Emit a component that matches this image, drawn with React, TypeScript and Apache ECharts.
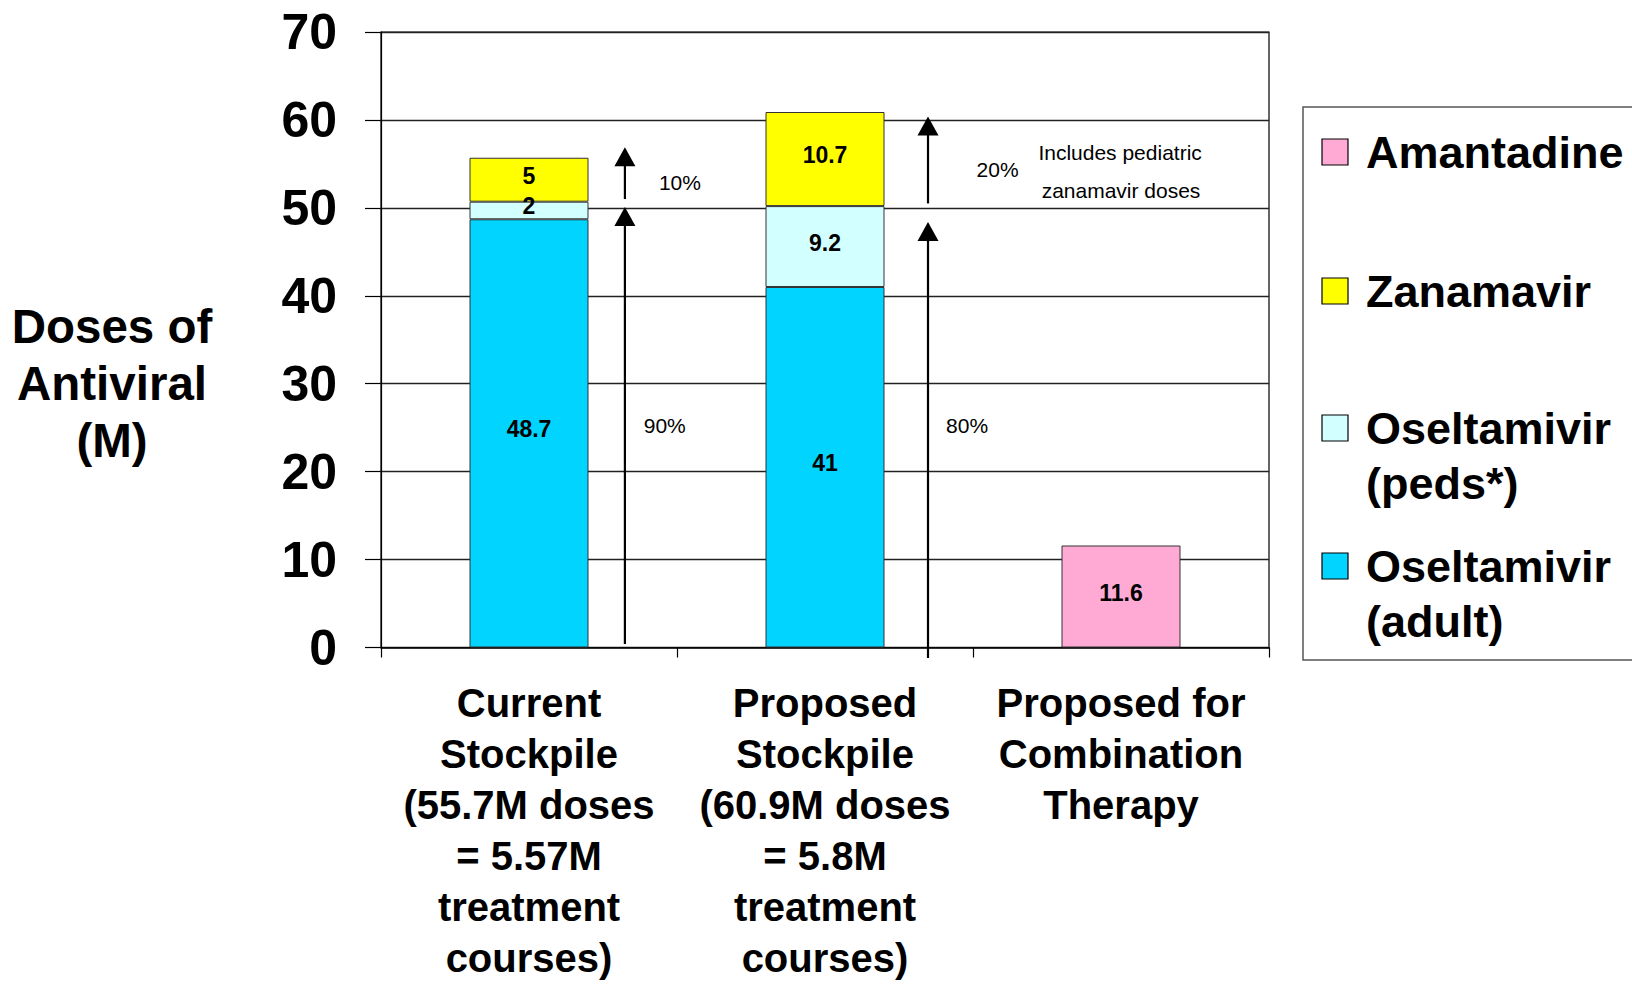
import React, { useEffect, useRef } from "react";
import * as echarts from "echarts";

// ---------- data ----------
const categories = [
  "Current\nStockpile\n(55.7M doses\n= 5.57M\ntreatment\ncourses)",
  "Proposed\nStockpile\n(60.9M doses\n= 5.8M\ntreatment\ncourses)",
  "Proposed for\nCombination\nTherapy",
];
const oseltamivirAdult = [48.7, 41, null];
const oseltamivirPeds = [2, 9.2, null];
const zanamavir = [5, 10.7, null];
const amantadine = [null, null, 11.6];

const yMin = 0;
const yMax = 70;
const yInterval = 10;

// arrows: [x position in category units (0..3), y start, y tip]
const arrows = [
  [0.824, 0.4, 50.1],
  [0.824, 51.0, 56.9],
  [1.848, -1.2, 48.4],
  [1.848, 50.5, 60.4],
];
// annotation texts and their anchor (category units, y value)
const annotationTexts = ["10%", "90%", "20%", "80%", "Includes pediatric", "zanamavir doses"];
const annotationAnchors = [
  [1.01, 52.9],
  [0.9585, 25.3],
  [2.083, 54.4],
  [1.98, 25.3],
  [2.497, 56.3],
  [2.5, 52.0],
];

const legendItems = [
  { name: "Amantadine", label: "Amantadine", color: "#FFAAD5" },
  { name: "Zanamavir", label: "Zanamavir", color: "#FFFF00" },
  { name: "Oseltamivir (peds*)", label: "Oseltamivir\n(peds*)", color: "#D2FFFF" },
  { name: "Oseltamivir (adult)", label: "Oseltamivir\n(adult)", color: "#00D4FF" },
];
const legendCenters = [152, 291, 428, 566];

const FONT = "'Liberation Sans', Arial, Helvetica, sans-serif";
const NARROW = "'Liberation Sans Narrow', 'Arial Narrow', 'Liberation Sans', Arial, sans-serif";

export default function App() {
  const ref = useRef<HTMLDivElement>(null);

  useEffect(() => {
    if (!ref.current) return;
    const chart = echarts.init(ref.current, undefined, { renderer: "svg" });

    const barLabel = {
      show: true,
      position: "inside",
      offset: [0, -4],
      color: "#000",
      fontSize: 23,
      fontWeight: "bold",
      fontFamily: NARROW,
    };
    const barCommon = {
      type: "bar",
      stack: "total",
      barWidth: 119,
      xAxisIndex: 0,
      yAxisIndex: 0,
      label: barLabel,
    };

    const legendGraphics: any[] = [
      {
        type: "rect",
        shape: { x: 1303, y: 107, width: 340, height: 553 },
        style: { fill: "#fff", stroke: "#555", lineWidth: 1.5 },
        z: 10,
      },
    ];
    legendItems.forEach((it, i) => {
      const cy = legendCenters[i];
      legendGraphics.push({
        type: "rect",
        shape: { x: 1322, y: cy - 13, width: 26, height: 26 },
        style: { fill: it.color, stroke: "#000", lineWidth: 1.2 },
        z: 11,
      });
      legendGraphics.push({
        type: "text",
        x: 1366,
        y: cy - 27.5,
        style: {
          text: it.label,
          fontSize: 45,
          fontWeight: "bold",
          fontFamily: FONT,
          fill: "#000",
          align: "left",
          verticalAlign: "top",
          lineHeight: 55,
        },
        z: 11,
      });
    });

    const option: any = {
      animation: false,
      backgroundColor: "#fff",
      grid: {
        left: 381,
        right: 363,
        top: 32,
        bottom: 336.5,
        containLabel: false,
        outerBoundsMode: "none",
        show: true,
        borderColor: "#000",
        borderWidth: 1.2,
        backgroundColor: "transparent",
      },
      xAxis: [
        {
          type: "category",
          data: categories,
          axisLine: { show: true, lineStyle: { color: "#000", width: 1.5 } },
          axisTick: { show: true, alignWithLabel: false, length: 10, lineStyle: { color: "#000", width: 1.2 } },
          axisLabel: {
            interval: 0,
            color: "#000",
            fontSize: 40,
            fontWeight: "bold",
            fontFamily: FONT,
            lineHeight: 51,
            margin: 29.5,
          },
          splitLine: { show: false },
        },
        {
          type: "value",
          min: 0,
          max: 3,
          show: false,
        },
      ],
      yAxis: {
        type: "value",
        min: yMin,
        max: yMax,
        interval: yInterval,
        axisLine: { show: true, lineStyle: { color: "#000", width: 1.2 } },
        axisTick: { show: true, inside: false, length: 16, lineStyle: { color: "#000", width: 1.2 } },
        axisLabel: {
          color: "#000",
          fontSize: 50,
          fontWeight: "bold",
          fontFamily: FONT,
          margin: 44,
        },
        splitLine: { show: true, lineStyle: { color: "#222", width: 1.3 } },
      },
      series: [
        {
          ...barCommon,
          name: "Oseltamivir (adult)",
          data: oseltamivirAdult,
          itemStyle: { color: "#00D4FF", borderColor: "#333", borderWidth: 1 },
        },
        {
          ...barCommon,
          name: "Oseltamivir (peds*)",
          data: oseltamivirPeds,
          itemStyle: { color: "#D2FFFF", borderColor: "#333", borderWidth: 1 },
        },
        {
          ...barCommon,
          name: "Zanamavir",
          data: zanamavir,
          itemStyle: { color: "#FFFF00", borderColor: "#333", borderWidth: 1 },
        },
        {
          ...barCommon,
          name: "Amantadine",
          data: amantadine,
          itemStyle: { color: "#FFAAD5", borderColor: "#333", borderWidth: 1 },
        },
        {
          type: "custom",
          name: "arrows",
          coordinateSystem: "cartesian2d",
          xAxisIndex: 1,
          yAxisIndex: 0,
          clip: false,
          silent: true,
          data: arrows,
          encode: { x: 0, y: [1, 2] },
          renderItem: (params: any, api: any) => {
            const x = api.value(0);
            const p0 = api.coord([x, api.value(1)]);
            const p1 = api.coord([x, api.value(2)]);
            const headH = 19;
            const headW = 21;
            return {
              type: "group",
              children: [
                {
                  type: "line",
                  shape: { x1: p0[0], y1: p0[1], x2: p1[0], y2: p1[1] + headH - 1 },
                  style: { stroke: "#000", lineWidth: 2.2 },
                },
                {
                  type: "polygon",
                  shape: {
                    points: [
                      [p1[0], p1[1]],
                      [p1[0] - headW / 2, p1[1] + headH],
                      [p1[0] + headW / 2, p1[1] + headH],
                    ],
                  },
                  style: { fill: "#000" },
                },
              ],
            };
          },
          z: 5,
        },
        {
          type: "custom",
          name: "annotations",
          coordinateSystem: "cartesian2d",
          xAxisIndex: 1,
          yAxisIndex: 0,
          clip: false,
          silent: true,
          data: annotationAnchors,
          encode: { x: 0, y: 1 },
          renderItem: (params: any, api: any) => {
            const p = api.coord([api.value(0), api.value(1)]);
            return {
              type: "text",
              x: p[0],
              y: p[1],
              style: {
                text: annotationTexts[params.dataIndex],
                fontSize: 21,
                fontFamily: FONT,
                fill: "#000",
                align: "center",
                verticalAlign: "middle",
              },
            };
          },
          z: 6,
        },
      ],
      graphic: [
        {
          type: "text",
          x: 112,
          y: 383,
          style: {
            text: "Doses of\nAntiviral\n(M)",
            fontSize: 47.5,
            fontWeight: "bold",
            fontFamily: FONT,
            fill: "#000",
            align: "center",
            verticalAlign: "middle",
            lineHeight: 57,
          },
        },
        ...legendGraphics,
      ],
    };

    chart.setOption(option);
    return () => chart.dispose();
  }, []);

  return (
    <div
      ref={ref}
      style={{ position: "fixed", left: 0, top: 0, width: 1632, height: 984, background: "#fff" }}
    />
  );
}
